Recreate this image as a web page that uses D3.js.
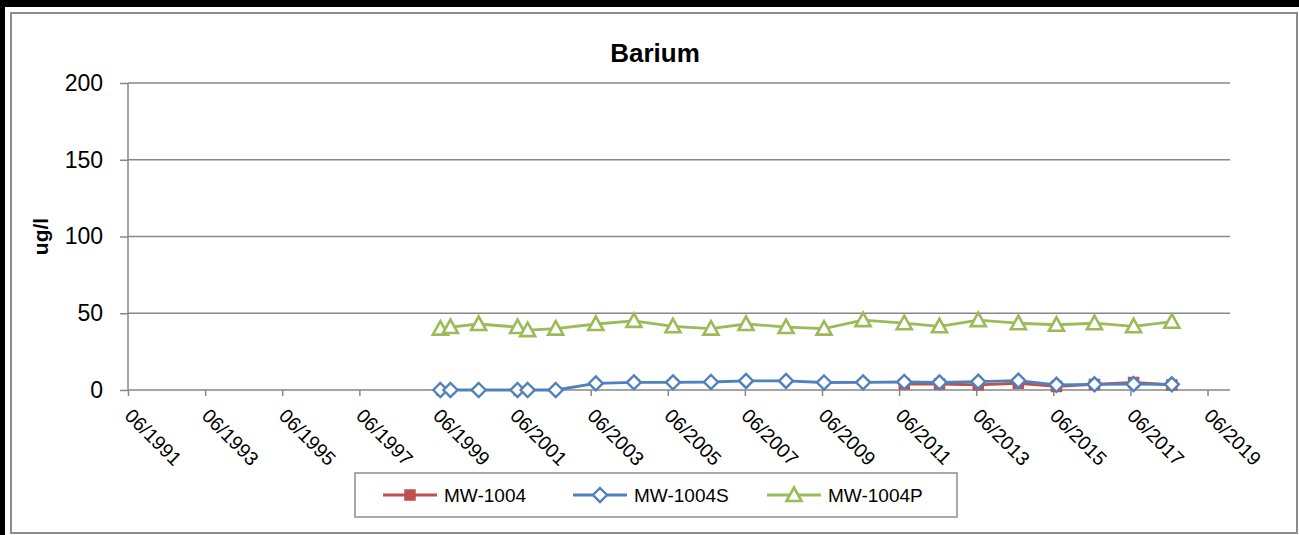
<!DOCTYPE html>
<html>
<head>
<meta charset="utf-8">
<script src="https://cdn.jsdelivr.net/npm/d3@7"></script>
<style>
  html, body { margin: 0; padding: 0; background: #fff; }
  svg { display: block; font-family: "Liberation Sans", Arial, sans-serif; }
</style>
</head>
<body>
<svg id="chart" width="1299" height="535"></svg>
<script>
// ---- data ----
const sampleDates = ["1999-07-08","1999-10-12","2000-07-05","2001-07-08","2001-10-12","2002-07-05",
  "2003-07-20","2004-07-15","2005-07-20","2006-07-15","2007-06-12","2008-06-25","2009-06-20",
  "2010-06-25","2011-07-20","2012-06-18","2013-06-20","2014-07-05","2015-07-01","2016-06-25",
  "2017-07-01","2018-06-28"];
const mw1004  = [null,null,null,null,null,null,null,null,null,null,null,null,null,null,
  3.9,3.9,3.4,4.4,2.3,3.6,4.9,3.3];
const mw1004S = [0,0,0,0,0,0,4.3,5,5,5.2,5.9,5.9,4.9,5,5.2,5,5.4,6.1,3.4,3.7,3.9,3.7];
const mw1004P = [40,41,43,41,39,40,43,45,41.5,40,43,41,40,45.5,43.5,41.5,45.5,43.5,42.5,43.5,41.5,44.5];
const seriesNames = ["MW-1004","MW-1004S","MW-1004P"];
const xTickLabels = ["06/1991","06/1993","06/1995","06/1997","06/1999","06/2001","06/2003",
  "06/2005","06/2007","06/2009","06/2011","06/2013","06/2015","06/2017","06/2019"];
const yTicks = [0,50,100,150,200];
const chartTitle = "Barium";
const yTitle = "ug/l";

// ---- setup ----
const svg = d3.select("#chart");
const W = 1299, H = 535;
const plot = {left: 128, right: 1230, top: 83, bottom: 390};
const parse = d3.timeParse("%Y-%m-%d");
const parseTick = d3.timeParse("%m/%Y");

const x = d3.scaleTime()
  .domain([new Date(1991,5,1), new Date(2019,11,31)])
  .range([plot.left, plot.right]);
const y = d3.scaleLinear().domain([0,200]).range([plot.bottom, plot.top]);

const gridColor = "#878787";

// outer frame
svg.append("rect").attr("x",0).attr("y",0).attr("width",W).attr("height",7).attr("fill","#000");
svg.append("rect").attr("x",0).attr("y",0).attr("width",5).attr("height",H).attr("fill","#000");
svg.append("rect").attr("x",11).attr("y",13).attr("width",1286).attr("height",520)
  .attr("fill","#fff").attr("stroke","#8c8c8c").attr("stroke-width",2);

// gridlines + y axis
const yAxis = d3.axisLeft(y).tickValues(yTicks).tickSize(8).tickPadding(17);
const gy = svg.append("g").attr("transform",`translate(${plot.left},0)`).call(yAxis);
gy.select(".domain").remove();
gy.selectAll(".tick line").attr("stroke",gridColor).attr("stroke-width",1.5);
gy.selectAll(".tick text").attr("font-size",23).attr("fill","#000")
  .attr("font-family","'Liberation Sans', Arial, sans-serif");
svg.append("g").selectAll("line").data(yTicks.filter(d=>d>0)).join("line")
  .attr("x1",plot.left).attr("x2",plot.right)
  .attr("y1",d=>y(d)).attr("y2",d=>y(d))
  .attr("stroke",gridColor).attr("stroke-width",1.5);
// y axis line
svg.append("line").attr("x1",plot.left).attr("x2",plot.left)
  .attr("y1",plot.top).attr("y2",plot.bottom)
  .attr("stroke",gridColor).attr("stroke-width",1.5);

// x axis
const tickDates = xTickLabels.map(parseTick);
const xAxis = d3.axisBottom(x).tickValues(tickDates).tickSize(6).tickFormat(d3.timeFormat("%m/%Y"));
const gx = svg.append("g").attr("transform",`translate(0,${plot.bottom})`).call(xAxis);
gx.select(".domain").attr("stroke",gridColor).attr("stroke-width",1.5)
  .attr("d",`M${plot.left},0H${plot.right}`);
gx.selectAll(".tick line").attr("stroke",gridColor).attr("stroke-width",1.5);
gx.selectAll(".tick text")
  .attr("font-size",19.5).attr("fill","#000")
  .attr("font-family","'Liberation Sans', Arial, sans-serif")
  .attr("text-anchor","start").attr("dy",null).attr("y",null)
  .attr("transform","translate(-5,27) rotate(45)");

// title
svg.append("text").attr("x",655).attr("y",62).attr("text-anchor","middle")
  .attr("font-size",26).attr("font-weight","bold").text(chartTitle);
svg.append("text").attr("transform",`translate(48,${(plot.top+plot.bottom)/2}) rotate(-90)`)
  .attr("text-anchor","middle").attr("font-size",21).attr("font-weight","bold").text(yTitle);

// series
const colors = ["#C0504D","#4F81BD","#9BBB59"];
const dates = sampleDates.map(parse);
const allSeries = [mw1004, mw1004S, mw1004P].map((vals,i)=>({
  name: seriesNames[i], color: colors[i],
  pts: vals.map((v,j)=>({date: dates[j], v})).filter(p=>p.v!==null)
}));

const line = d3.line().x(d=>x(d.date)).y(d=>y(d.v));

function marker(g, kind, color) {
  if (kind===0) {
    g.append("rect").attr("x",-5).attr("y",-5).attr("width",10).attr("height",10)
      .attr("fill",color).attr("stroke",color).attr("stroke-width",1.5);
  } else if (kind===1) {
    g.append("path").attr("d","M0,-7L7,0L0,7L-7,0Z")
      .attr("fill","#fff").attr("stroke",color).attr("stroke-width",2.4);
  } else {
    g.append("path").attr("d","M0,-7.5L7.5,6L-7.5,6Z")
      .attr("fill","#fff").attr("stroke",color).attr("stroke-width",2.6)
      .attr("stroke-linejoin","miter");
  }
}

allSeries.forEach((s,i)=>{
  const g = svg.append("g");
  g.append("path").datum(s.pts).attr("d",line).attr("fill","none")
    .attr("stroke",s.color).attr("stroke-width",2.8).attr("stroke-linejoin","round");
  s.pts.forEach(p=>{
    const m = g.append("g").attr("transform",`translate(${x(p.date)},${y(p.v)})`);
    marker(m,i,s.color);
  });
});

// legend
svg.append("rect").attr("x",355).attr("y",473).attr("width",602).attr("height",44)
  .attr("fill","#fff").attr("stroke","#8c8c8c").attr("stroke-width",1.5);
const legX = [383, 573, 767];
allSeries.forEach((s,i)=>{
  const g = svg.append("g").attr("transform",`translate(${legX[i]},495)`);
  g.append("line").attr("x1",0).attr("x2",54).attr("stroke",s.color).attr("stroke-width",2.8);
  const m = g.append("g").attr("transform","translate(27,0)");
  marker(m,i,s.color);
  g.append("text").attr("x",61).attr("y",7).attr("font-size",19).text(s.name);
});
</script>
</body>
</html>
